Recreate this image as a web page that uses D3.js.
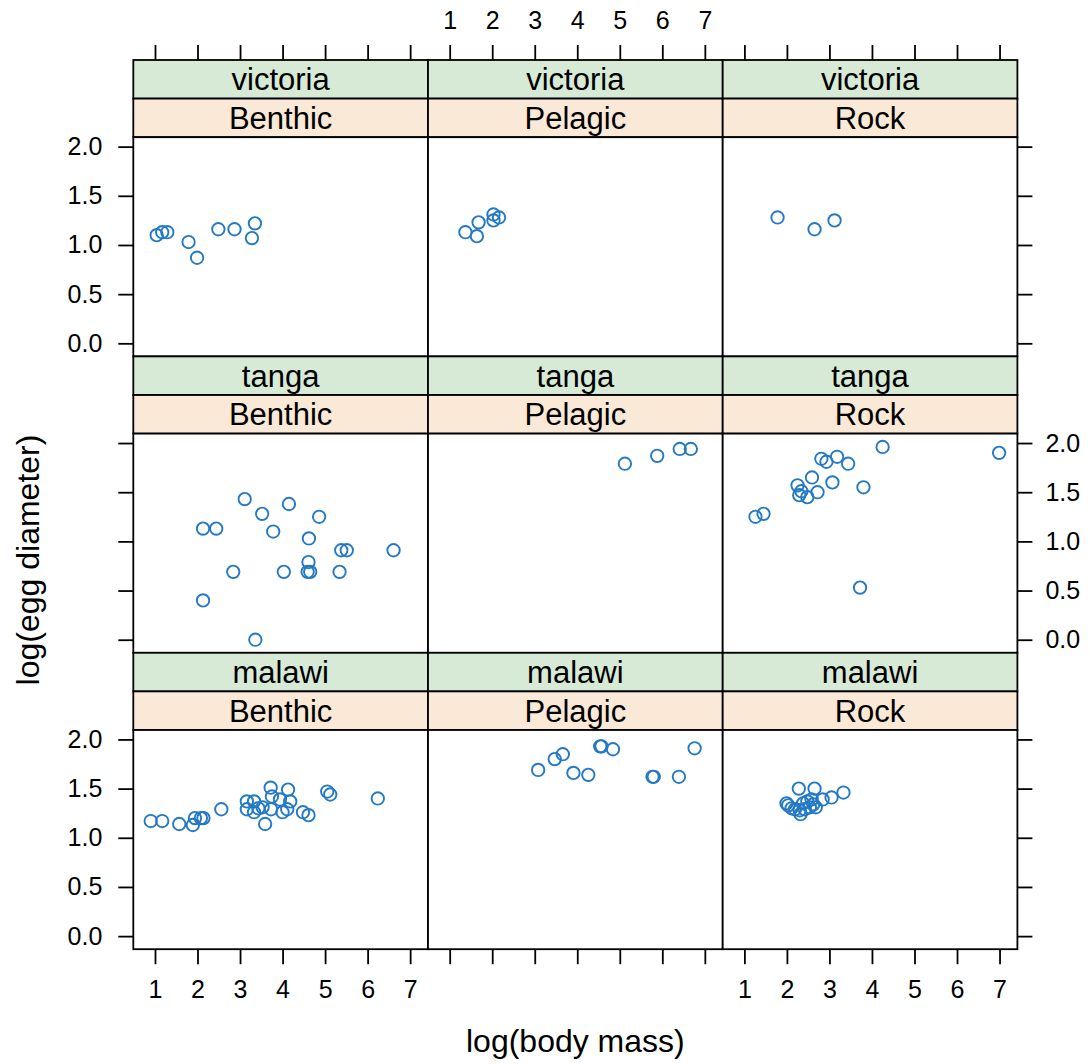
<!DOCTYPE html>
<html>
<head>
<meta charset="utf-8">
<script src="https://cdn.jsdelivr.net/npm/d3@7"></script>
<style>
  html, body { margin: 0; padding: 0; background: #ffffff; }
  svg { display: block; }
  text { font-family: "Liberation Sans", Arial, Helvetica, sans-serif; fill: #000; }
</style>
</head>
<body>
<svg id="chart" width="1090" height="1064"></svg>
<script>
// ---------------- data ----------------
const lakes = ["victoria", "tanga", "malawi"];      // rows, top to bottom
const habitats = ["Benthic", "Pelagic", "Rock"];    // columns, left to right
const xTicks = [1, 2, 3, 4, 5, 6, 7];
const yTicks = [0.0, 0.5, 1.0, 1.5, 2.0];
const yTickLabels = ["0.0", "0.5", "1.0", "1.5", "2.0"];
const xLabel = "log(body mass)";
const yLabel = "log(egg diameter)";

const victoriaBenthicX = [1.04, 1.17, 1.29, 1.79, 1.99, 2.49, 2.87, 3.35, 3.28];
const victoriaBenthicY = [1.10, 1.13, 1.13, 1.03, 0.87, 1.16, 1.16, 1.22, 1.07];
const victoriaPelagicX = [1.37, 1.64, 1.68, 2.03, 2.16, 2.03];
const victoriaPelagicY = [1.13, 1.09, 1.23, 1.31, 1.28, 1.25];
const victoriaRockX = [1.78, 2.65, 3.12];
const victoriaRockY = [1.28, 1.16, 1.25];

const tangaBenthicX = [3.11, 4.15, 3.52, 4.86, 2.13, 2.44, 3.78, 4.62, 5.38, 5.51, 6.61, 4.61, 2.84, 4.03, 4.59, 4.65, 5.34, 2.13, 3.36];
const tangaBenthicY = [1.43, 1.38, 1.28, 1.25, 1.13, 1.13, 1.10, 1.03, 0.91, 0.91, 0.91, 0.79, 0.69, 0.69, 0.69, 0.69, 0.69, 0.40, 0.00];
const tangaPelagicX = [5.12, 5.88, 6.41, 6.67];
const tangaPelagicY = [1.79, 1.87, 1.94, 1.94];
const tangaRockX = [1.26, 1.45, 2.25, 2.34, 2.29, 2.48, 2.59, 2.72, 2.81, 2.93, 3.18, 3.44, 3.07, 3.80, 4.25, 6.99, 3.72];
const tangaRockY = [1.25, 1.28, 1.57, 1.51, 1.47, 1.45, 1.65, 1.50, 1.84, 1.81, 1.86, 1.79, 1.60, 1.55, 1.96, 1.90, 0.53];

const malawiBenthicX = [0.90, 1.17, 1.57, 1.89, 1.94, 2.08, 2.14, 2.56, 3.16, 3.33, 3.16, 3.33, 3.43, 3.53, 3.59, 3.72, 3.75, 3.73, 3.94, 4.13, 4.18, 4.00, 4.11, 4.48, 4.61, 5.05, 5.12, 6.24];
const malawiBenthicY = [1.17, 1.17, 1.14, 1.13, 1.20, 1.20, 1.20, 1.29, 1.37, 1.37, 1.29, 1.26, 1.30, 1.31, 1.14, 1.51, 1.42, 1.29, 1.39, 1.49, 1.37, 1.26, 1.29, 1.26, 1.23, 1.47, 1.44, 1.40];
const malawiPelagicX = [3.08, 3.47, 3.66, 3.91, 4.26, 4.54, 4.57, 4.84, 5.77, 5.80, 6.39, 6.76];
const malawiPelagicY = [1.69, 1.80, 1.85, 1.66, 1.64, 1.93, 1.93, 1.90, 1.62, 1.62, 1.62, 1.91];
const malawiRockX = [2.28, 2.65, 3.33, 3.05, 2.84, 1.99, 2.03, 2.11, 2.19, 2.32, 2.38, 2.48, 2.58, 2.68, 2.54, 2.42, 2.62, 2.30];
const malawiRockY = [1.50, 1.50, 1.46, 1.41, 1.39, 1.35, 1.33, 1.30, 1.29, 1.24, 1.35, 1.37, 1.39, 1.31, 1.31, 1.29, 1.34, 1.28];

const panelData = {
  victoria: { Benthic: [victoriaBenthicX, victoriaBenthicY], Pelagic: [victoriaPelagicX, victoriaPelagicY], Rock: [victoriaRockX, victoriaRockY] },
  tanga:    { Benthic: [tangaBenthicX, tangaBenthicY],       Pelagic: [tangaPelagicX, tangaPelagicY],       Rock: [tangaRockX, tangaRockY] },
  malawi:   { Benthic: [malawiBenthicX, malawiBenthicY],     Pelagic: [malawiPelagicX, malawiPelagicY],     Rock: [malawiRockX, malawiRockY] }
};

// ---------------- layout ----------------
const leftX = 133.3, topY = 60;
const pw = 294.7, ph = 219.2, sh = 38.6;
const rowH = 2 * sh + ph;
const tickLen = 15;
const stripOuter = "#d6ead6", stripInner = "#fbe9d7";
const pointCol = "#2479c4";
const lineW = 1.8;
const tickFont = 25, stripFont = 31, labFont = 32;

const x = d3.scaleLinear().domain([0.49, 7.42]).range([0, pw]);
const y = d3.scaleLinear().domain([-0.133, 2.096]).range([ph, 0]);

const svg = d3.select("#chart");

const styleAxis = (g, fontSize) => {
  g.select(".domain").remove();
  g.selectAll(".tick line").attr("stroke", "#000").attr("stroke-width", lineW);
  g.selectAll(".tick text").style("font-size", fontSize + "px")
    .style("font-family", '"Liberation Sans", Arial, Helvetica, sans-serif').attr("fill", "#000");
};

lakes.forEach((lake, r) => {
  habitats.forEach((hab, c) => {
    const gx = leftX + c * pw;
    const rowTop = topY + r * rowH;
    const py = rowTop + 2 * sh;

    // strips
    const sg = svg.append("g").attr("transform", `translate(${gx},${rowTop})`);
    sg.append("rect").attr("width", pw).attr("height", sh)
      .attr("fill", stripOuter).attr("stroke", "#000").attr("stroke-width", lineW);
    sg.append("rect").attr("y", sh).attr("width", pw).attr("height", sh)
      .attr("fill", stripInner).attr("stroke", "#000").attr("stroke-width", lineW);
    sg.append("text").attr("x", pw / 2).attr("y", sh / 2).attr("dy", "0.36em")
      .attr("text-anchor", "middle").style("font-size", stripFont + "px").text(lake);
    sg.append("text").attr("x", pw / 2).attr("y", sh * 1.5).attr("dy", "0.36em")
      .attr("text-anchor", "middle").style("font-size", stripFont + "px").text(hab);

    // panel
    const pg = svg.append("g").attr("transform", `translate(${gx},${py})`);
    pg.append("rect").attr("width", pw).attr("height", ph)
      .attr("fill", "#fff").attr("stroke", "#000").attr("stroke-width", lineW);

    const [xs, ys] = panelData[lake][hab];
    pg.selectAll("circle").data(xs.map((v, i) => [v, ys[i]])).enter()
      .append("circle")
      .attr("cx", d => x(d[0])).attr("cy", d => y(d[1])).attr("r", 6.2)
      .attr("fill", "none").attr("stroke", pointCol).attr("stroke-width", 1.9);

    if (r === 0) {
      const ax = d3.axisTop(x).tickValues(xTicks).tickSize(tickLen).tickPadding(16)
        .tickFormat(c === 1 ? d3.format("d") : () => "");
      const g = svg.append("g").attr("transform", `translate(${gx},${rowTop})`).call(ax);
      styleAxis(g, tickFont);
    }
    if (r === lakes.length - 1) {
      const ax = d3.axisBottom(x).tickValues(xTicks).tickSize(tickLen).tickPadding(16)
        .tickFormat(c !== 1 ? d3.format("d") : () => "");
      const g = svg.append("g").attr("transform", `translate(${gx},${py + ph})`).call(ax);
      styleAxis(g, tickFont);
    }
    if (c === 0) {
      const ax = d3.axisLeft(y).tickValues(yTicks).tickSize(tickLen).tickPadding(16)
        .tickFormat((d, i) => r !== 1 ? yTickLabels[i] : "");
      const g = svg.append("g").attr("transform", `translate(${gx},${py})`).call(ax);
      styleAxis(g, tickFont);
    }
    if (c === habitats.length - 1) {
      const ax = d3.axisRight(y).tickValues(yTicks).tickSize(tickLen).tickPadding(13)
        .tickFormat((d, i) => r === 1 ? yTickLabels[i] : "");
      const g = svg.append("g").attr("transform", `translate(${gx + pw},${py})`).call(ax);
      styleAxis(g, tickFont);
    }
  });
});

// axis titles
svg.append("text").attr("x", leftX + 1.5 * pw).attr("y", 1052)
  .attr("text-anchor", "middle").style("font-size", labFont + "px").text(xLabel);
svg.append("text").attr("transform", `translate(39, 560) rotate(-90)`)
  .attr("text-anchor", "middle").style("font-size", labFont + "px").text(yLabel);
</script>
</body>
</html>
